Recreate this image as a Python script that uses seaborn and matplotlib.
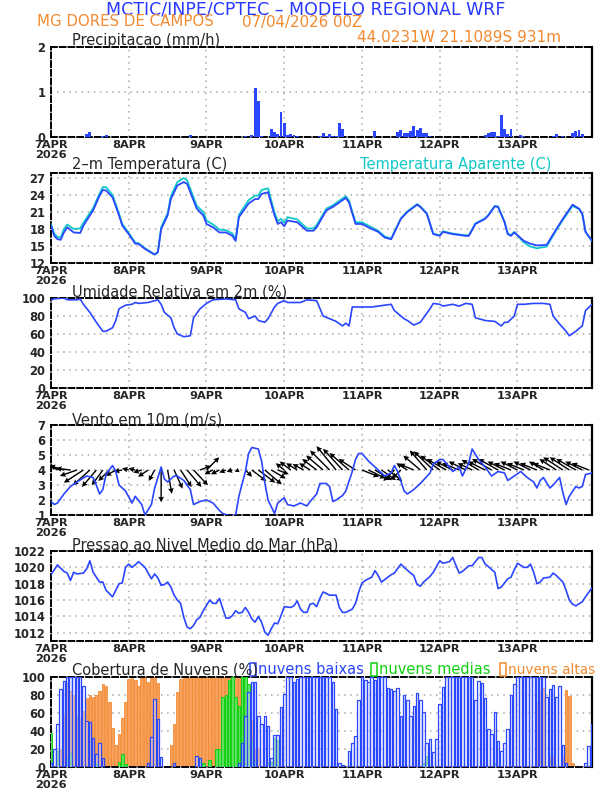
import numpy as np
import pandas as pd
import matplotlib
matplotlib.use("Agg")
import matplotlib.pyplot as plt
from matplotlib.patches import Rectangle
import seaborn as sns

sns.set_style("white")
plt.rcParams['font.family'] = ['DejaVu Sans']

# ---------------- data ----------------
day_hours = [0, 24, 48, 72, 96, 120, 144]
day_labels = ["7APR\n2026", "8APR", "9APR", "10APR", "11APR", "12APR", "13APR"]

precip_hours = [11,12,16,17,43,60,62,63,64,65,68,69,70,71,72,73,74,75,76,83,84,85,86,87,88,
                89,90,100,107,108,109,110,111,112,113,114,115,116,117,134,135,136,137,138,139,
                140,141,142,145,146,155,156,158,161,162,163,164]
precip_vals = [0.07,0.12,0.03,0.05,0.05,0.03,0.05,1.08,0.80,0.03,0.18,0.12,0.07,0.55,0.32,
               0.05,0.07,0.05,0.02,0.03,0.08,0.02,0.06,0.03,0.03,0.32,0.18,0.14,0.12,0.15,
               0.10,0.08,0.14,0.25,0.15,0.20,0.10,0.08,0.03,0.05,0.09,0.11,0.12,0.03,0.50,
               0.18,0.07,0.18,0.05,0.03,0.03,0.07,0.03,0.09,0.13,0.15,0.07]

temp_hours = [0,1,2,3,4,5,7,9,10,13,15,16,17,19,21,22,24,26,27,29,31,32,33,34,36,37,39,41,42,43,
              45,47,48,50,52,54,56,57,58,61,63,64,65,67,69,70,71,72,73,76,79,81,82,85,87,89,91,
              92,94,96,98,101,103,105,106,108,110,113,114,116,118,120,121,124,128,129,131,134,
              135,137,138,140,141,142,143,146,148,150,153,156,158,161,163,164,165,167]
temp_vals = [18.6,16.8,16.2,16.1,17.4,18.3,17.4,17.3,18.6,21.3,23.9,24.9,24.8,23.6,20.4,18.6,
             17.1,15.4,15.4,14.5,13.8,13.5,13.9,18.0,20.4,23.3,25.7,26.3,26.0,24.5,21.6,20.4,
             18.9,18.3,17.4,17.4,16.8,15.9,20.1,22.5,23.3,23.3,24.2,24.5,20.4,18.9,19.2,18.5,
             19.5,19.2,17.7,17.7,18.3,21.3,21.9,22.7,23.5,22.7,18.9,18.9,18.3,17.5,16.5,16.2,
             17.4,19.8,21.0,22.3,21.9,20.7,17.1,16.8,17.5,17.1,16.8,16.8,18.9,19.8,20.4,22.0,
             21.9,19.2,17.1,16.8,17.4,15.9,15.4,15.1,15.2,18.0,19.8,22.3,21.6,20.7,17.5,15.9]
tapar_vals = [18.9,17.2,16.6,16.5,18.0,18.8,18.0,18.1,19.1,21.7,24.3,25.4,25.4,24.0,20.7,18.9,
              17.3,15.6,15.5,14.6,13.9,13.5,14.0,18.3,20.8,23.8,26.3,27.0,26.6,25.1,22.1,21.0,
              19.5,18.8,17.9,17.8,17.2,16.2,20.5,23.1,23.9,23.9,24.9,25.2,20.9,19.4,19.8,19.1,
              20.1,19.7,18.1,18.1,18.7,21.6,22.2,23.0,23.8,23.0,19.2,19.2,18.6,17.7,16.7,16.3,
              17.5,19.9,21.1,22.4,22.0,20.8,17.2,16.9,17.6,17.2,16.9,16.9,19.0,19.9,20.5,22.1,
              22.0,19.3,17.2,16.9,17.5,15.6,14.9,14.6,14.9,17.8,19.6,22.1,21.5,20.7,17.5,15.9]

rh_hours = [0,1,4,5,8,9,10,12,14,16,17,19,20,21,23,25,26,27,30,33,34,35,37,38,39,41,43,44,46,48,
            50,54,57,58,60,61,63,64,66,67,69,70,72,73,77,79,82,84,86,88,90,91,92,93,94,99,105,
            106,109,110,112,114,115,117,118,120,121,124,126,128,130,131,134,137,139,140,141,143,
            144,146,149,152,154,155,157,159,160,162,164,165,167]
rh_vals = [98,99,100,98,98,99,93,84,73,63,63,67,75,88,92,93,95,94,95,98,93,84,78,67,60,57,58,78,
           88,94,98,99,98,88,84,77,80,75,73,77,90,94,97,95,95,98,97,80,77,74,69,72,69,90,90,90,
           93,86,77,75,70,73,78,88,94,93,91,93,91,94,93,78,75,74,69,73,73,80,93,93,94,94,93,80,
           71,63,58,63,69,86,93]

wspd_hours = [0,1,2,4,6,8,11,13,14,15,16,17,19,20,21,23,25,26,28,29,31,32,34,35,36,38,39,41,43,44,
              46,48,50,52,53,55,57,58,60,61,62,64,65,66,67,69,70,72,73,75,77,79,80,82,83,85,86,87,
              88,90,91,93,94,95,96,98,100,102,103,105,106,107,109,110,112,114,117,118,120,121,123,
              124,126,127,129,130,132,134,136,138,140,141,143,145,147,149,150,151,152,154,155,157,
              158,159,160,162,163,164,165,167]
wspd_vals = [1.9,1.7,1.8,2.4,2.9,3.2,3.6,3.5,3.0,2.4,2.7,3.7,4.3,3.9,3.0,2.6,1.8,2.25,1.7,1.0,1.7,
             2.8,4.2,3.4,3.2,3.6,3.6,3.3,2.7,1.7,1.9,2.0,1.8,1.3,1.1,0.95,1.0,2.25,3.9,5.1,5.5,5.4,
             4.6,3.15,2.0,1.1,1.8,2.15,1.7,1.6,1.8,1.6,1.9,2.4,3.1,3.1,2.9,1.9,2.0,2.3,2.6,3.9,4.7,
             5.1,5.1,4.6,4.2,3.8,3.6,3.8,4.3,3.9,2.6,2.4,2.7,3.1,3.8,4.4,4.7,4.7,4.2,3.9,4.2,3.6,
             4.5,5.4,4.7,4.2,3.6,3.9,3.8,3.3,3.6,3.9,3.5,3.2,2.8,3.3,3.5,2.8,3.0,3.5,2.5,1.7,2.25,
             2.9,2.8,2.9,3.7,3.8]

wind_hours = list(range(0, 168, 2))
wind_u = [-1.3,-1.3,-1.7,-1.7,-2.0,-2.3,-2.0,-1.7,-1.3,-1.3,-1.2,-1.0,-0.8,-0.8,-1.0,-1.2,-0.7,
          0.0,0.5,1.0,1.3,1.7,1.7,1.3,1.5,-1.0,-1.0,-0.8,-0.7,-0.5,0.8,1.7,2.0,2.0,1.7,1.3,
          -1.0,-1.3,-1.3,-1.3,-1.3,-1.7,-2.0,-2.3,-2.3,-2.3,-2.3,-2.0,2.0,2.0,2.0,1.7,1.7,-1.3,
          -1.0,-1.3,-1.7,-2.0,-2.0,-2.3,-2.3,-2.3,-2.0,-2.0,-2.0,-1.7,-2.0,-2.0,-2.3,-2.3,-2.0,
          -2.0,-2.0,-2.0,-2.0,-2.0,-1.7,-2.0,-2.0,-2.3,-2.3,-2.3,-2.0,-2.0]
wind_v = [0.7,0.7,0.5,0.2,-0.7,-1.5,-1.8,-2.0,-1.8,-1.3,-0.7,-0.2,0.2,0.2,-0.3,-0.8,-1.3,-3.8,
          -2.8,-2.2,-2.0,-2.0,-1.8,0.5,1.5,-0.5,-0.5,-0.3,-0.2,-0.2,-0.8,-1.3,-1.5,-1.7,-1.0,-0.5,
          0.8,1.0,0.8,0.7,0.8,1.3,1.7,2.3,2.8,2.5,2.0,1.3,-0.8,-1.0,-1.2,-1.2,-1.3,-1.3,-1.0,0.8,
          0.7,1.7,2.3,2.2,1.7,1.3,1.0,0.8,1.0,0.8,1.2,1.0,1.3,1.3,1.0,0.8,1.0,0.8,1.0,0.8,1.0,
          0.8,1.3,1.5,1.5,1.3,1.0,0.8]

slp_hours = [0,2,4,5,6,7,8,10,11,12,13,14,15,16,17,18,19,20,21,22,23,24,25,26,27,29,31,32,33,34,
             35,36,37,38,39,40,41,42,43,44,45,46,47,49,50,51,52,53,54,55,56,57,58,59,60,61,62,63,
             64,65,66,67,68,69,70,71,72,74,75,76,77,78,79,80,81,82,83,84,85,86,88,89,90,91,93,94,
             95,96,97,99,100,101,102,103,105,106,108,109,111,112,113,114,115,117,118,120,121,123,
             124,126,127,129,130,132,133,134,135,137,138,139,141,142,143,144,146,147,148,149,150,
             151,152,154,155,156,158,159,160,161,162,164,165,167]
slp_vals = [1019.1,1020.3,1019.5,1019.3,1018.4,1019.4,1019.2,1019.3,1019.8,1020.8,1019.4,1018.8,
            1018.2,1018.2,1017.2,1016.8,1016.4,1017.2,1018.0,1018.1,1020.0,1020.4,1020.0,1020.3,
            1020.7,1020.0,1018.6,1019.2,1018.7,1017.8,1017.9,1018.2,1017.6,1016.6,1016.0,1015.6,
            1013.9,1012.7,1012.5,1012.9,1013.6,1013.9,1014.7,1016.0,1015.6,1015.6,1016.2,1015.0,
            1013.8,1013.8,1014.1,1014.7,1014.4,1014.5,1015.1,1014.5,1013.7,1013.3,1014.0,1013.3,
            1012.1,1011.7,1012.5,1013.2,1013.1,1014.1,1015.2,1015.1,1015.3,1015.9,1014.9,1014.5,
            1014.5,1015.5,1015.6,1015.2,1016.2,1017.0,1016.8,1016.6,1016.6,1015.1,1014.5,1014.5,
            1014.9,1015.6,1017.0,1018.1,1018.4,1018.8,1019.6,1019.0,1018.2,1018.5,1019.1,1019.3,
            1020.4,1020.0,1019.3,1019.0,1017.9,1017.7,1018.2,1018.9,1019.4,1020.8,1020.5,1020.7,
            1021.2,1019.3,1019.5,1020.2,1020.2,1021.2,1021.2,1020.4,1020.1,1019.4,1017.4,1017.6,
            1018.6,1018.8,1019.7,1020.5,1020.0,1020.0,1020.4,1019.4,1018.0,1018.2,1018.7,1018.8,
            1019.3,1019.0,1018.2,1017.2,1016.0,1015.5,1015.3,1015.8,1016.4,1017.5]

cloud_hours = list(range(168))
cloud_low = [4,20,48,87,96,100,100,100,100,100,90,51,50,32,14,27,10,0,0,0,0,0,0,0,
             0,0,0,0,0,0,5,33,76,53,11,0,0,0,4,0,0,0,0,0,0,12,10,0,
             0,0,0,0,0,0,0,0,0,0,5,27,57,83,94,94,57,48,57,46,10,36,36,67,
             81,100,100,94,98,100,100,100,100,100,100,100,100,100,100,94,65,5,2,0,18,27,35,75,
             100,97,94,100,97,100,100,100,88,87,85,88,57,80,75,57,68,82,74,61,27,31,17,31,
             70,89,100,100,100,100,100,100,100,100,100,74,96,93,77,42,37,61,29,18,27,42,80,92,
             100,100,100,100,100,100,100,100,100,78,87,91,78,90,24,5,0,0,0,0,0,5,23,48]
cloud_mid = [38,0,18,0,0,9,16,0,0,0,0,0,0,0,3,0,0,0,0,0,0,6,14,3,
             0,0,0,0,0,0,0,0,0,0,0,0,0,0,0,0,0,0,0,0,0,0,10,5,
             0,8,0,20,20,78,80,97,100,78,68,100,100,92,30,8,0,0,0,6,6,32,30,0,
             0,0,0,0,0,0,0,0,0,0,0,0,0,0,0,0,0,0,0,0,0,0,0,0,
             0,0,0,0,0,0,0,0,0,0,0,0,0,0,0,0,0,0,0,5,12,0,0,0,
             0,0,0,0,0,0,0,0,0,0,0,0,0,0,0,0,0,5,0,0,0,0,0,0,
             0,0,0,0,0,0,0,0,0,0,0,0,0,0,0,0,0,0,0,0,0,0,0,0]
cloud_high = [0,0,0,20,58,93,85,80,56,53,62,77,80,78,80,85,92,90,72,43,24,37,55,72,
              98,100,97,90,100,100,95,100,100,93,0,0,0,24,48,83,98,100,100,100,100,100,100,100,
              100,100,100,100,100,100,100,100,100,100,100,100,100,85,52,20,20,0,0,0,0,0,0,0,
              0,0,0,0,0,0,0,0,0,0,0,0,0,0,0,0,0,0,0,0,0,0,0,0,
              0,0,0,0,0,0,0,0,0,0,0,0,0,0,0,0,0,0,0,0,0,0,0,0,
              0,0,0,0,0,0,0,0,0,0,0,0,0,0,0,0,0,0,0,0,0,0,0,0,
              0,0,0,0,0,0,72,85,88,0,12,12,0,0,12,86,79,5,0,0,0,0,0,0]

# ---------------- style ----------------
BLUE = '#2a46ff'
CYAN = '#10c8c8'
ORANGE = '#f28a30'
GREEN = '#10d010'
GRID = '#a8a8a8'

W, H = 612, 792
fig = plt.figure(figsize=(W / 100, H / 100), dpi=100)
fig.patch.set_facecolor('white')

def ftext(x, y, s, **kw):
    fig.text(x / W, 1 - y / H, s, **kw)

def fbox(x, y, w, h, color):
    fig.patches.append(Rectangle((x / W, 1 - (y + h) / H), w / W, h / H, fill=False,
                                 edgecolor=color, linewidth=1.1,
                                 transform=fig.transFigure, figure=fig))

tops = [47, 173, 298, 425, 551, 677]
ph = 90
left, right = 51, 592

def make_ax(top):
    ax = fig.add_axes([left / W, 1 - (top + ph) / H, (right - left) / W, ph / H])
    ax.set_xlim(0, 167)
    ax.set_xticks(day_hours)
    ax.set_xticklabels(day_labels, fontsize=8.2, fontweight='bold', linespacing=1.08)
    ax.tick_params(axis='x', length=0, pad=2)
    ax.tick_params(axis='y', direction='out', length=3, width=1, pad=1)
    for side in ['top', 'left', 'bottom']:
        ax.spines[side].set_linestyle((0, (3, 1.5)))
        ax.spines[side].set_linewidth(1.4)
        ax.spines[side].set_color('black')
    ax.spines['right'].set_linewidth(1.6)
    ax.spines['right'].set_color('black')
    for d in day_hours[1:]:
        ax.axvline(d, color=GRID, linestyle=(0, (1, 3)), linewidth=1.1, zorder=0)
    return ax

def ygrid(ax, vals):
    for v in vals:
        ax.axhline(v, color=GRID, linestyle=(0, (1, 3)), linewidth=1.1, zorder=0)

def boldy(ax):
    for lab in ax.get_yticklabels():
        lab.set_fontweight('bold')
        lab.set_fontsize(8.3)

# header
ftext(306, 9.5, "MCTIC/INPE/CPTEC \u2013 MODELO REGIONAL WRF", color='#2838ff',
      fontsize=12.5, ha='center', va='center')
ftext(37, 22, "MG DORES DE CAMPOS", color=ORANGE, fontsize=10.8, ha='left', va='center')
ftext(242, 22, "07/04/2026 00Z", color=ORANGE, fontsize=10.8, ha='left', va='center')
ftext(561, 38, "44.0231W 21.1089S 931m", color=ORANGE, fontsize=11, ha='right', va='center')

# panel 1: precipitation
ax1 = make_ax(tops[0])
ax1.bar(precip_hours, precip_vals, width=0.9, color=BLUE, linewidth=0, zorder=3)
ax1.set_ylim(0, 2)
ax1.set_yticks([0, 1, 2])
ygrid(ax1, [1])
boldy(ax1)
ftext(72, 40, "Precipitacao (mm/h)", fontsize=10.5, ha='left', va='center')

# panel 2: temperature
ax2 = make_ax(tops[1])
df_t = pd.DataFrame({'h': temp_hours, 't': temp_vals, 'ta': tapar_vals})
sns.lineplot(data=df_t, x='h', y='ta', ax=ax2, color=CYAN, linewidth=1.3, zorder=3)
sns.lineplot(data=df_t, x='h', y='t', ax=ax2, color=BLUE, linewidth=1.3, zorder=4)
ax2.set_ylim(12, 27.9)
ax2.set_yticks([12, 15, 18, 21, 24, 27])
ygrid(ax2, [15, 18, 21, 24, 27])
boldy(ax2)
ftext(72, 165, "2\u2013m Temperatura (C)", fontsize=10.5, ha='left', va='center')
ftext(360, 165, "Temperatura Aparente (C)", fontsize=10.5, ha='left', va='center', color=CYAN)

# panel 3: RH
ax3 = make_ax(tops[2])
sns.lineplot(x=rh_hours, y=rh_vals, ax=ax3, color=BLUE, linewidth=1.2, zorder=3)
ax3.set_ylim(0, 100)
ax3.set_yticks([0, 20, 40, 60, 80, 100])
ygrid(ax3, [20, 40, 60, 80])
boldy(ax3)
ftext(72, 292, "Umidade Relativa em 2m (%)", fontsize=10.5, ha='left', va='center')

# panel 4: wind
ax4 = make_ax(tops[3])
ax4.quiver(wind_hours, [4.0] * len(wind_hours), wind_u, wind_v, angles='uv',
           scale_units='dots', scale=1 / 8.5, pivot='tail', color='black',
           width=0.0026, headwidth=4, headlength=4, headaxislength=3.6, zorder=3)
sns.lineplot(x=wspd_hours, y=wspd_vals, ax=ax4, color=BLUE, linewidth=1.2, zorder=4)
ax4.set_ylim(1, 7)
ax4.set_yticks([1, 2, 3, 4, 5, 6, 7])
ygrid(ax4, [2, 3, 4, 5, 6])
boldy(ax4)
ftext(72, 420, "Vento em 10m (m/s)", fontsize=10.5, ha='left', va='center')

# panel 5: pressure
ax5 = make_ax(tops[4])
sns.lineplot(x=slp_hours, y=slp_vals, ax=ax5, color=BLUE, linewidth=1.2, zorder=3)
ax5.set_ylim(1011, 1022)
ax5.set_yticks([1012, 1014, 1016, 1018, 1020, 1022])
ygrid(ax5, [1012, 1014, 1016, 1018, 1020])
boldy(ax5)
ftext(72, 545, "Pressao ao Nivel Medio do Mar (hPa)", fontsize=10.5, ha='left', va='center')

# panel 6: clouds
ax6 = make_ax(tops[5])
ax6.bar(cloud_hours, cloud_high, width=0.8, color='#f6a25e', edgecolor=ORANGE,
        linewidth=0.6, zorder=2)
ax6.bar(cloud_hours, cloud_mid, width=0.8, color='#60e060', edgecolor=GREEN,
        linewidth=0.7, zorder=3)
ax6.bar(cloud_hours, cloud_low, width=0.8, facecolor=(0.92, 0.93, 1.0, 0.45),
        edgecolor=BLUE, linewidth=0.9, zorder=4)
ax6.set_ylim(0, 100)
ax6.set_yticks([0, 20, 40, 60, 80, 100])
ygrid(ax6, [20, 40, 60, 80])
boldy(ax6)
ftext(72, 670, "Cobertura de Nuvens (%)", fontsize=10.5, ha='left', va='center')
fbox(250, 663, 6, 13, BLUE)
ftext(258, 670, "nuvens baixas", fontsize=10.5, ha='left', va='center', color=BLUE)
fbox(371, 663, 6, 13, GREEN)
ftext(379, 670, "nuvens medias", fontsize=10.5, ha='left', va='center', color=GREEN)
fbox(500, 663, 6, 13, ORANGE)
ftext(508, 670, "nuvens altas", fontsize=9.8, ha='left', va='center', color=ORANGE)

for ax in [ax1, ax2, ax3, ax4, ax5, ax6]:
    ax.set_xlabel('')
    ax.set_ylabel('')
    ax.set_facecolor('white')

fig.savefig('out.png', dpi=100)
